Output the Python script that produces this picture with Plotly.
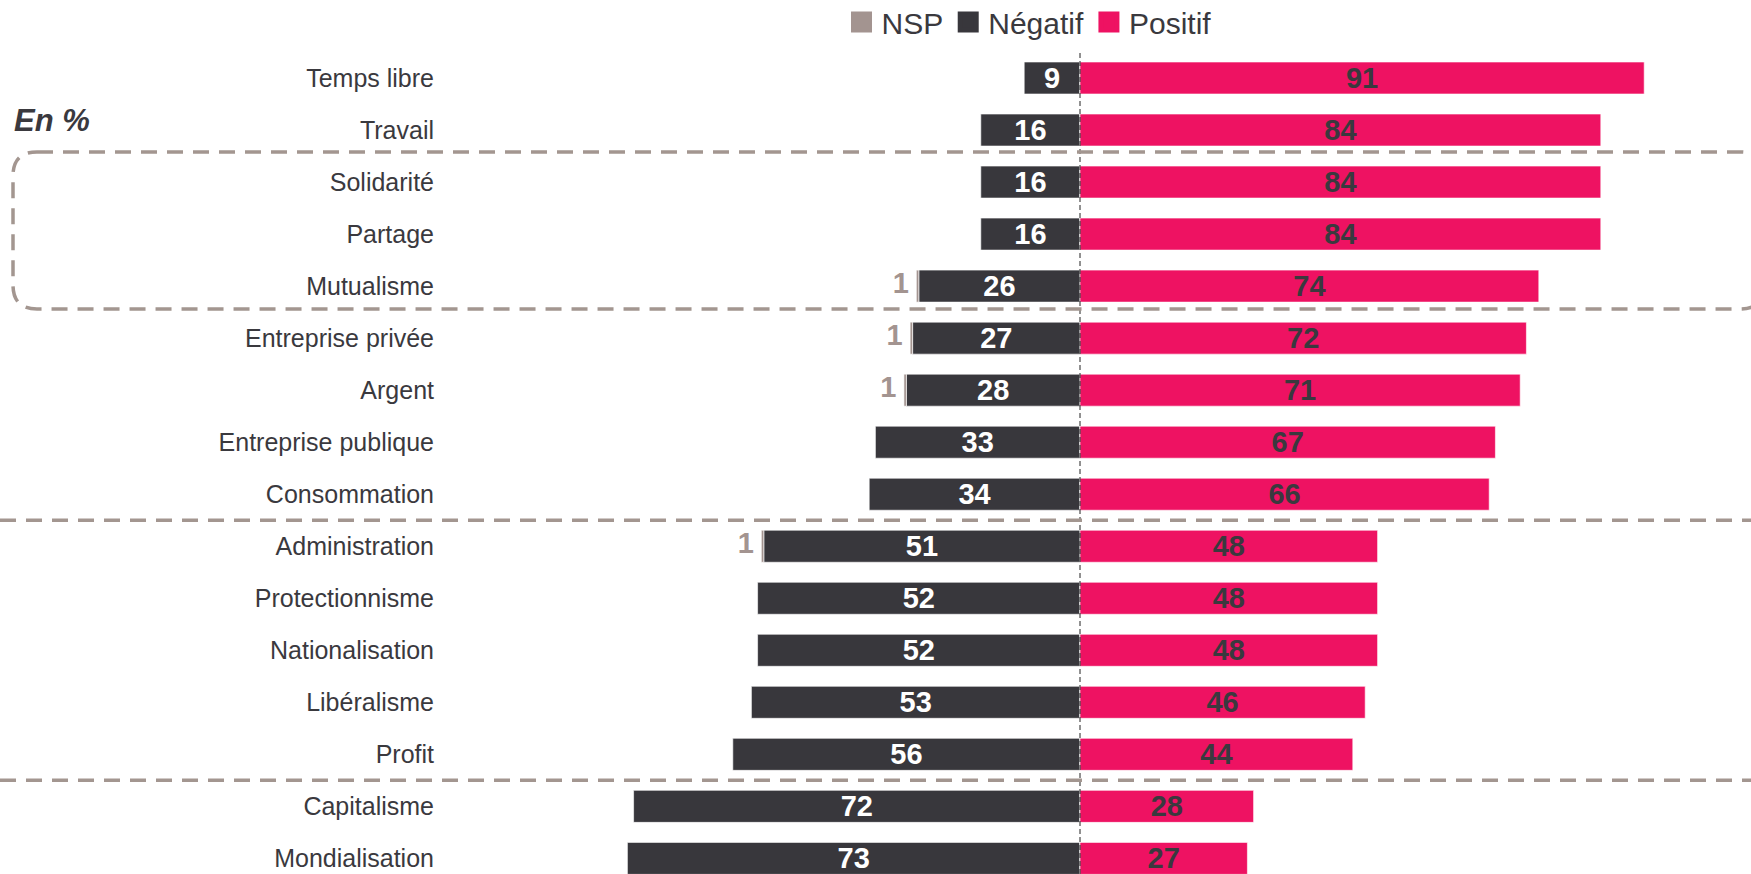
import plotly.graph_objects as go

categories = ["Temps libre", "Travail", "Solidarité", "Partage", "Mutualisme",
              "Entreprise privée", "Argent", "Entreprise publique", "Consommation",
              "Administration", "Protectionnisme", "Nationalisation", "Libéralisme",
              "Profit", "Capitalisme", "Mondialisation"]
negatif = [9, 16, 16, 16, 26, 27, 28, 33, 34, 51, 52, 52, 53, 56, 72, 73]
positif = [91, 84, 84, 84, 74, 72, 71, 67, 66, 48, 48, 48, 46, 44, 28, 27]
nsp = [0, 0, 0, 0, 0.4, 0.4, 0.4, 0, 0, 0.4, 0, 0, 0, 0, 0, 0]
nsp_labels = ["", "", "", "", "1", "1", "1", "", "", "1", "", "", "", "", "", ""]

C_NSP = "#a39490"
C_NEG = "#38373c"
C_POS = "#ee1262"
TXT = "#3a393e"
FONT = "Liberation Sans, Arial, sans-serif"

W, H = 1751, 874
M_T, M_B = 52, 0
PX_PER_UNIT = 6.2
CENTER_PX = 1080
x_range = [-CENTER_PX / PX_PER_UNIT, (W - CENTER_PX) / PX_PER_UNIT]
y_range = [15.3, -0.5]
row_px = (H - M_T - M_B) / (y_range[0] - y_range[1])

idx = list(range(len(categories)))

fig = go.Figure()

fig.add_trace(go.Bar(
    y=idx, x=[-v for v in negatif], orientation="h", name="Négatif",
    marker=dict(color=C_NEG, line=dict(color="rgba(255,255,255,0.6)", width=1)),
    text=[str(v) for v in negatif], textposition="inside", insidetextanchor="middle",
    textangle=0, constraintext="none",
    textfont=dict(color="white", size=29, family=FONT, weight="bold"),
    showlegend=False, hoverinfo="skip"))

fig.add_trace(go.Bar(
    y=idx, x=[-v for v in nsp], orientation="h", name="NSP",
    marker=dict(color=C_NSP, line=dict(color="rgba(255,255,255,0.6)", width=1)),
    showlegend=False, hoverinfo="skip"))

fig.add_trace(go.Bar(
    y=idx, x=positif, orientation="h", name="Positif",
    marker=dict(color=C_POS, line=dict(color="rgba(255,255,255,0.6)", width=1)),
    text=[str(v) for v in positif], textposition="inside", insidetextanchor="middle",
    textangle=0, constraintext="none",
    textfont=dict(color=TXT, size=29, family=FONT, weight="bold"),
    showlegend=False, hoverinfo="skip"))

# NSP labels left of the bars
lab_y = [i for i, t in zip(idx, nsp_labels) if t]
lab_x = [-(negatif[i] + nsp[i]) - 1.2 for i in lab_y]
fig.add_trace(go.Scatter(
    y=lab_y, x=lab_x, mode="text", text=[nsp_labels[i] for i in lab_y],
    textposition="middle left",
    textfont=dict(color=C_NSP, size=29, family=FONT, weight="bold"),
    showlegend=False, hoverinfo="skip"))

# legend proxies
for name, col in [("NSP", C_NSP), ("Négatif", C_NEG), ("Positif", C_POS)]:
    fig.add_trace(go.Scatter(
        x=[None], y=[None], mode="markers", name=name,
        marker=dict(symbol="square", size=22, color=col, line=dict(color=col, width=5))))

DASH_COL = "#a39690"
shapes = []
# centre line
shapes.append(dict(type="line", xref="x", yref="paper", x0=0, x1=0, y0=0, y1=1,
                   line=dict(color="#222222", width=1, dash="5px,3px"), layer="above"))
# separators
for yy in [8.5, 13.5]:
    shapes.append(dict(type="line", xref="paper", yref="y", x0=0, x1=1, y0=yy, y1=yy,
                       line=dict(color=DASH_COL, width=3.5, dash="16px,10px")))
# rounded dashed box
x0 = (13 - CENTER_PX) / PX_PER_UNIT
x1 = (1764 - CENTER_PX) / PX_PER_UNIT
y0, y1 = 1.42, 4.44
rx = 24 / PX_PER_UNIT
ry = 24 / row_px
path = (f"M {x0+rx},{y0} L {x1-rx},{y0} Q {x1},{y0} {x1},{y0+ry} "
        f"L {x1},{y1-ry} Q {x1},{y1} {x1-rx},{y1} L {x0+rx},{y1} "
        f"Q {x0},{y1} {x0},{y1-ry} L {x0},{y0+ry} Q {x0},{y0} {x0+rx},{y0} Z")
shapes.append(dict(type="path", xref="x", yref="y", path=path,
                   line=dict(color=DASH_COL, width=3.5, dash="16px,10px")))

fig.update_layout(
    width=W, height=H,
    margin=dict(l=0, r=0, t=M_T, b=M_B, autoexpand=False),
    paper_bgcolor="white", plot_bgcolor="white",
    barmode="relative", bargap=0.385,
    font=dict(family=FONT, color=TXT),
    shapes=shapes,
    showlegend=True,
    legend=dict(orientation="h", x=0.4806, xanchor="left", y=1 + (M_T - 22) / (H - M_T - M_B),
                yanchor="middle", font=dict(size=30, color=TXT, family=FONT),
                traceorder="normal", itemwidth=30, tracegroupgap=0,
                bgcolor="rgba(0,0,0,0)"),
    xaxis=dict(range=x_range, visible=False, showgrid=False, zeroline=False, fixedrange=True),
    yaxis=dict(range=y_range, tickmode="array", tickvals=idx, ticktext=categories,
               showgrid=False, zeroline=False, showline=False, ticks="",
               anchor="free", position=434 / W, side="left", automargin=False,
               tickfont=dict(size=25, color=TXT, family=FONT)),
    annotations=[dict(text="<b><i>En %</i></b>", xref="paper", yref="paper",
                      x=12 / W, xanchor="left",
                      y=1 - (121 - M_T) / (H - M_T - M_B), yanchor="middle",
                      showarrow=False, font=dict(size=31, color=TXT, family=FONT))],
)

fig.write_html("out.html", config={"displayModeBar": False},
               post_script="document.body.style.margin='0';document.body.style.overflow='hidden';")
